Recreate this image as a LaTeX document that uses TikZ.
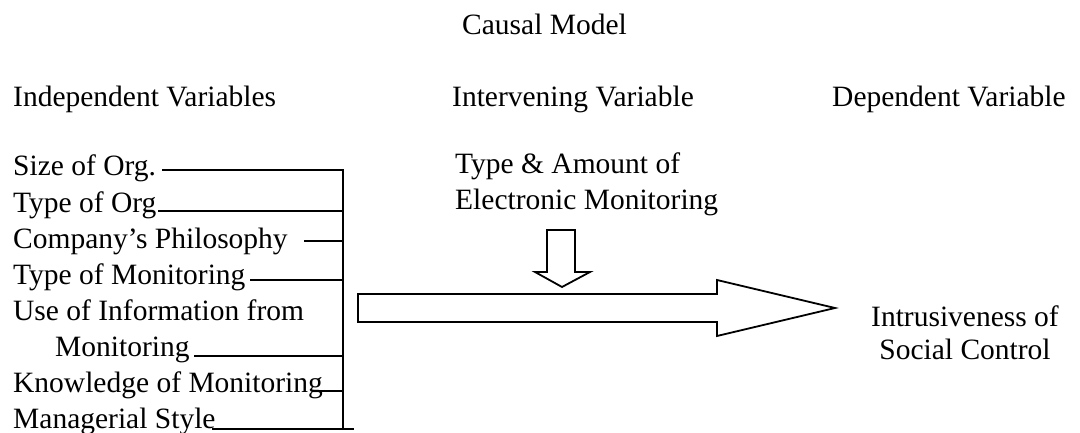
\documentclass[tikz,border=0pt]{standalone}
\usepackage{fontspec}
\setmainfont{Liberation Serif}
\begin{document}
\begin{tikzpicture}[x=1pt,y=-1pt,
  lbl/.style={inner sep=0pt,anchor=base west,font=\fontsize{29.5}{36}\selectfont},
  clbl/.style={inner sep=0pt,anchor=base,font=\fontsize{29.5}{36}\selectfont},
  wire/.style={line width=1.6pt,line cap=rect},
  bigarrow/.style={line width=1.8pt,line join=miter,fill=white}]
\useasboundingbox (0,0) rectangle (1080,433);
% title and headers
\node[lbl] (title) at (462,35) {Causal Model};
\node[lbl] (hind) at (13,107) {Independent Variables};
\node[lbl] (hint) at (452,107) {Intervening Variable};
\node[lbl] (hdep) at (832,107) {Dependent Variable};
% independent variables
\node[lbl] (v1) at (13,176) {Size of Org.};
\node[lbl] (v2) at (13,212) {Type of Org};
\node[lbl] (v3) at (13,248) {Company's Philosophy};
\node[lbl] (v4) at (13,284) {Type of Monitoring};
\node[lbl] (v5) at (13,320) {Use of Information from};
\node[lbl] (v5b) at (55,356) {Monitoring};
\node[lbl] (v6) at (13,392) {Knowledge of Monitoring};
\node[lbl] (v7) at (13,428) {Managerial Style};
% connector start points
\coordinate (s1) at (163,170);
\coordinate (s2) at (159,211);
\coordinate (s3) at (305,241);
\coordinate (s4) at (251,280);
\coordinate (s5) at (195,356);
\coordinate (s6) at (315,391);
\coordinate (s7) at (213,429);
% bracket points
\coordinate (b1) at (343,170);
\coordinate (b2) at (343,211);
\coordinate (b3) at (343,241);
\coordinate (b4) at (343,280);
\coordinate (b5) at (343,356);
\coordinate (b6) at (343,391);
\coordinate (b7) at (343,429);
\coordinate (b7e) at (353,429);
\foreach \i in {1,...,6} {\draw[wire] (s\i) -- (b\i);}
\draw[wire] (s7) -- (b7e);
\draw[wire] (b1) -- (b7);
% intervening variable
\node[lbl] (iv1) at (455,174) {Type \& Amount of};
\node[lbl] (iv2) at (455,210) {Electronic Monitoring};
% small down arrow
\draw[bigarrow] (547,230) -- (575,230) -- (575,272) -- (590,272) -- (562,287)
  -- (535,272) -- (547,272) -- cycle;
% big right arrow
\draw[bigarrow] (358,294) -- (717,294) -- (717,280) -- (835,308) -- (717,336)
  -- (717,322) -- (358,322) -- cycle;
% dependent variable
\node[clbl] (dv1) at (965,326) {Intrusiveness of};
\node[clbl] (dv2) at (965,359) {Social Control};
\end{tikzpicture}
\end{document}
